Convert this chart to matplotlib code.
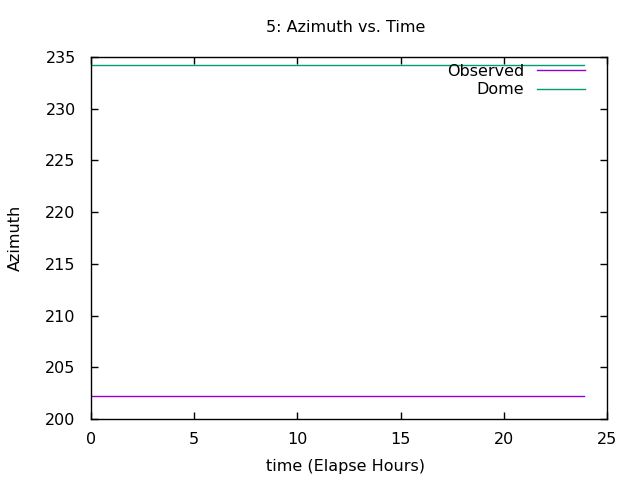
import matplotlib
matplotlib.use("Agg")
import matplotlib.pyplot as plt

time_hours = [0.0, 6.0, 12.0, 18.0, 23.9]
observed = [202.2, 202.2, 202.2, 202.2, 202.2]
dome = [234.2, 234.2, 234.2, 234.2, 234.2]

plt.rcParams['font.family'] = ['DejaVu Sans']
fs = 11.5

fig = plt.figure(figsize=(6.4, 4.8), dpi=100)
ax = fig.add_axes([91/640, 1-419/480, (607-91)/640, (419-57)/480])
ax.plot(time_hours, observed, color='#9400d3', lw=1, label='Observed')
ax.plot(time_hours, dome, color='#009e73', lw=1, label='Dome')
ax.set_xlim(0, 25)
ax.set_ylim(200, 235)
ax.set_xticks([0, 5, 10, 15, 20, 25])
ax.set_yticks([200, 205, 210, 215, 220, 225, 230, 235])
ax.tick_params(direction='in', top=True, right=True, length=5, width=1, labelsize=fs)
ax.tick_params(axis='y', pad=11)
ax.tick_params(axis='x', pad=9)
for s in ax.spines.values():
    s.set_linewidth(1)
ax.set_xlabel('time (Elapse Hours)', fontsize=fs)
ax.set_ylabel('Azimuth', fontsize=fs)
ax.xaxis.set_label_coords((346-91)/516, (419-459)/362)
ax.yaxis.set_label_coords((23-91)/516, 0.5)
fig.text(346/640, 1-28/480, '5: Azimuth vs. Time', ha='center', va='center', fontsize=fs)
ax.legend(loc='upper right', bbox_to_anchor=((585-91)/516, (419-64)/362),
          frameon=False, markerfirst=False, handlelength=3.0, handletextpad=0.8,
          borderpad=0, borderaxespad=0, labelspacing=0.2, fontsize=fs)
fig.savefig('out.png', dpi=100)
